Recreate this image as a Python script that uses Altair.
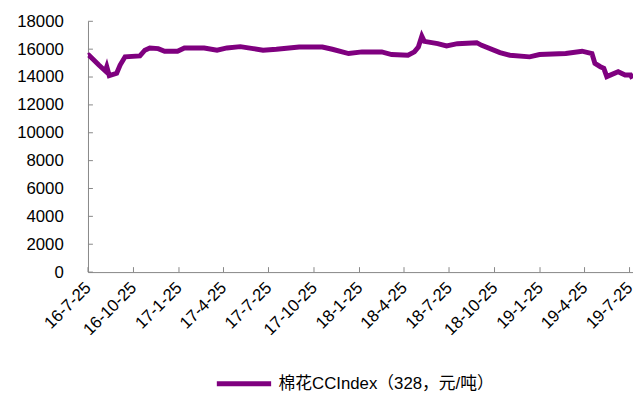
import altair as alt
import pandas as pd

dates = [
    "2016-07-25", "2016-07-27", "2016-08-16", "2016-08-29", "2016-09-01", "2016-09-06",
    "2016-09-21", "2016-09-28", "2016-10-08", "2016-11-07", "2016-11-17", "2016-11-27",
    "2016-12-14", "2016-12-27", "2017-01-22", "2017-02-05", "2017-03-17", "2017-04-12",
    "2017-05-02", "2017-05-29", "2017-06-24", "2017-07-14", "2017-08-10", "2017-09-25",
    "2017-11-11", "2017-12-01", "2018-01-03", "2018-01-30", "2018-03-11", "2018-03-31",
    "2018-05-03", "2018-05-16", "2018-05-24", "2018-05-31", "2018-06-05", "2018-07-02",
    "2018-07-20", "2018-08-11", "2018-09-19", "2018-09-29", "2018-11-05", "2018-11-25",
    "2019-01-04", "2019-01-24", "2019-03-18", "2019-04-20", "2019-05-10", "2019-05-16",
    "2019-05-27", "2019-06-03", "2019-06-09", "2019-07-02", "2019-07-16", "2019-07-27",
    "2019-07-31",
]
values = [
    15550, 15570, 14860, 14435, 14750, 14102,
    14268, 14860, 15449, 15520, 15924, 16087,
    16040, 15853, 15853, 16087, 16087, 15924,
    16087, 16181, 16040, 15924, 15994, 16157,
    16157, 15994, 15685, 15803, 15803, 15614,
    15567, 15803, 16157, 16937, 16561, 16394,
    16228, 16394, 16465, 16275, 15756, 15567,
    15449, 15614, 15685, 15853, 15685, 14974,
    14740, 14622, 14032, 14386, 14150, 14150,
    13900,
]
series_name = "棉花CCIndex（328，元/吨）"
y_ticks = [0, 2000, 4000, 6000, 8000, 10000, 12000, 14000, 16000, 18000]
x_tick_dates = [
    "2016-07-25", "2016-10-25", "2017-01-25", "2017-04-25", "2017-07-25",
    "2017-10-25", "2018-01-25", "2018-04-25", "2018-07-25", "2018-10-25",
    "2019-01-25", "2019-04-25", "2019-07-25",
]

FONT = "Liberation Sans, Arial, Noto Sans CJK SC"
GRAY = "#868686"

df = pd.DataFrame({"date": pd.to_datetime(dates), "value": values, "series": series_name})
xt = pd.DataFrame({"date": pd.to_datetime(x_tick_dates)})
yt = pd.DataFrame({"value": y_ticks})

def dt(s):
    t = pd.Timestamp(s)
    return alt.DateTime(year=t.year, month=t.month, date=t.day)

xscale = alt.Scale(domain=[dt("2016-07-25"), dt("2019-08-01")], nice=False)
yscale = alt.Scale(domain=[0, 18000], nice=False)

xaxis = alt.Axis(values=[dt(s) for s in x_tick_dates], format="%y-%-m-%-d",
                 labelAngle=315, labelAlign="right", labelBaseline="middle",
                 labelPadding=13, ticks=False, grid=False, domainColor=GRAY,
                 labelFontSize=17, labelFont=FONT, labelColor="#000000",
                 title=None, labelOverlap=False, labelBound=False, labelFlush=False)
yaxis = alt.Axis(values=y_ticks, format="d", ticks=False, grid=False, domainColor=GRAY,
                 labelFontSize=17, labelFont=FONT, labelColor="#000000",
                 labelPadding=25, title=None, labelOverlap=False)

line = alt.Chart(df).mark_line(strokeWidth=5, interpolate="linear").encode(
    x=alt.X("date:T", scale=xscale, axis=xaxis),
    y=alt.Y("value:Q", scale=yscale, axis=yaxis),
    color=alt.Color("series:N", scale=alt.Scale(range=["#7F007F"]),
                    legend=alt.Legend(title=None, orient="none", legendX=128, legendY=337,
                                      symbolType="stroke", symbolSize=3025,
                                      symbolStrokeWidth=5, labelFontSize=17,
                                      labelFont=FONT, labelColor="#000000",
                                      labelOffset=5, padding=0, labelLimit=500)),
)

xticks = alt.Chart(xt).mark_rule(color=GRAY, strokeWidth=1).encode(
    x=alt.X("date:T", scale=xscale, axis=xaxis), y=alt.value(254), y2=alt.value(249)
)
yticks = alt.Chart(yt).mark_rule(color=GRAY, strokeWidth=1).encode(
    y=alt.Y("value:Q", scale=yscale, axis=yaxis), x=alt.value(0), x2=alt.value(5)
)

chart = alt.layer(line, xticks, yticks).properties(
    width=552, height=254,
    autosize=alt.AutoSizeParams(type="none"),
    padding={"left": 81, "top": 11, "right": 0, "bottom": 121},
).configure_view(stroke=None)

chart.save("out.html", embed_options={"renderer": "svg", "actions": False})
